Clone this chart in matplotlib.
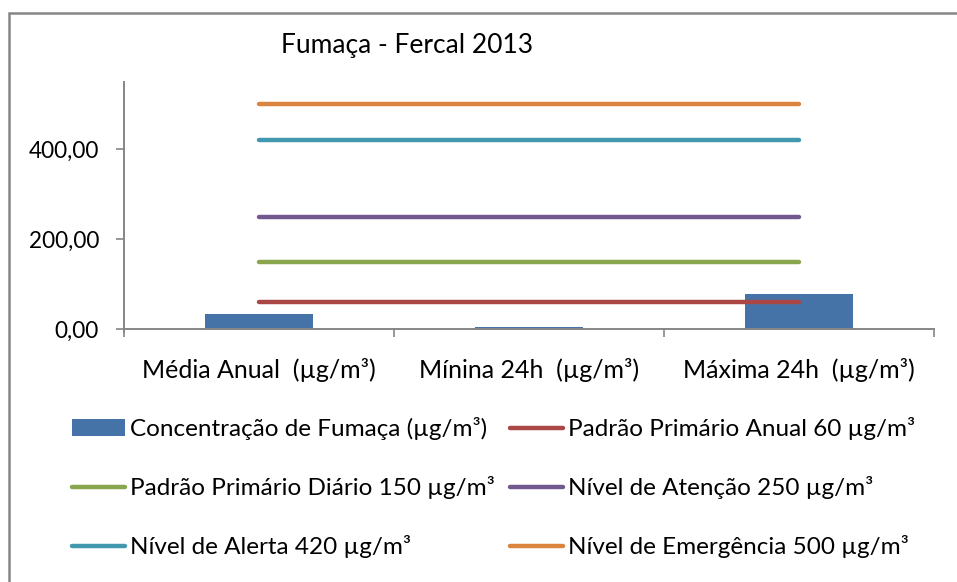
import matplotlib
matplotlib.use("Agg")
import matplotlib.pyplot as plt
from matplotlib.patches import Rectangle
import numpy as np

plt.rcParams['font.family'] = ['Lato', 'DejaVu Sans']

categorias = ['Média Anual  (µg/m³)', 'Mínina 24h  (µg/m³)', 'Máxima 24h  (µg/m³)']
concentracao = [33, 5, 77]
limites = [60, 150, 250, 420, 500]
nomes_limites = ['Padrão Primário Anual 60 µg/m³',
                 'Padrão Primário Diário 150 µg/m³',
                 'Nível de Atenção 250 µg/m³',
                 'Nível de Alerta 420 µg/m³',
                 'Nível de Emergência 500 µg/m³']
cores_limites = ['#AA4643', '#89A54E', '#71588F', '#4198AF', '#DB843D']
yticks = [0, 200, 400]

W, H = 957, 582
fig = plt.figure(figsize=(W / 100, H / 100), dpi=100)

# moldura do grafico
fig.patches.append(Rectangle((9 / W, -0.01), 1.0, 1 - 13 / H + 0.01, transform=fig.transFigure,
                             fill=False, edgecolor='#868686', linewidth=1.8))

ax = fig.add_axes([124 / W, 1 - 329 / H, 810 / W, (329 - 82) / H])
x = np.arange(len(categorias))
barra = ax.bar(x, concentracao, width=0.4, color='#4572A7', zorder=2,
               label='Concentração de Fumaça (µg/m³)')
linhas = []
for v, nome, cor in zip(limites, nomes_limites, cores_limites):
    l, = ax.plot(x, [v] * len(x), color=cor, linewidth=3.2, solid_capstyle='round',
                 label=nome, zorder=3)
    linhas.append(l)

ax.set_xlim(-0.5, 2.5)
ax.set_ylim(0, 550)
ax.set_yticks(yticks)
ax.set_yticklabels([f'{v:.2f}'.replace('.', ',') for v in yticks])
ax.set_xticks(x)
ax.set_xticklabels(categorias)
ax.set_xticks([-0.5, 0.5, 1.5, 2.5], minor=True)
ax.tick_params(axis='x', which='major', length=0, pad=21, labelsize=18)
ax.tick_params(axis='x', which='minor', length=6, width=1.2, color='#868686', direction='out')
ax.tick_params(axis='y', length=6, width=1.2, color='#868686', pad=12, labelsize=16.3)
for s in ['top', 'right']:
    ax.spines[s].set_visible(False)
for s in ['left', 'bottom']:
    ax.spines[s].set_color('#868686')
    ax.spines[s].set_linewidth(1.4)
ax.spines['left'].set_bounds(-6, 550)

fig.text(407 / W, 1 - 46 / H, 'Fumaça - Fercal 2013', ha='center', va='center', fontsize=19)

col1 = [barra, linhas[1], linhas[3]]
col2 = [linhas[0], linhas[2], linhas[4]]
for hs, x0 in [(col1, 72), (col2, 510)]:
    fig.legend(hs, [h.get_label() for h in hs], loc='upper left',
               bbox_to_anchor=(x0 / W, 1 - 417 / H), frameon=False, fontsize=17.5,
               handlelength=2.18, handletextpad=0.2, borderpad=0, borderaxespad=0,
               labelspacing=1.48, handleheight=0.65)

fig.savefig('out.png', dpi=100)
